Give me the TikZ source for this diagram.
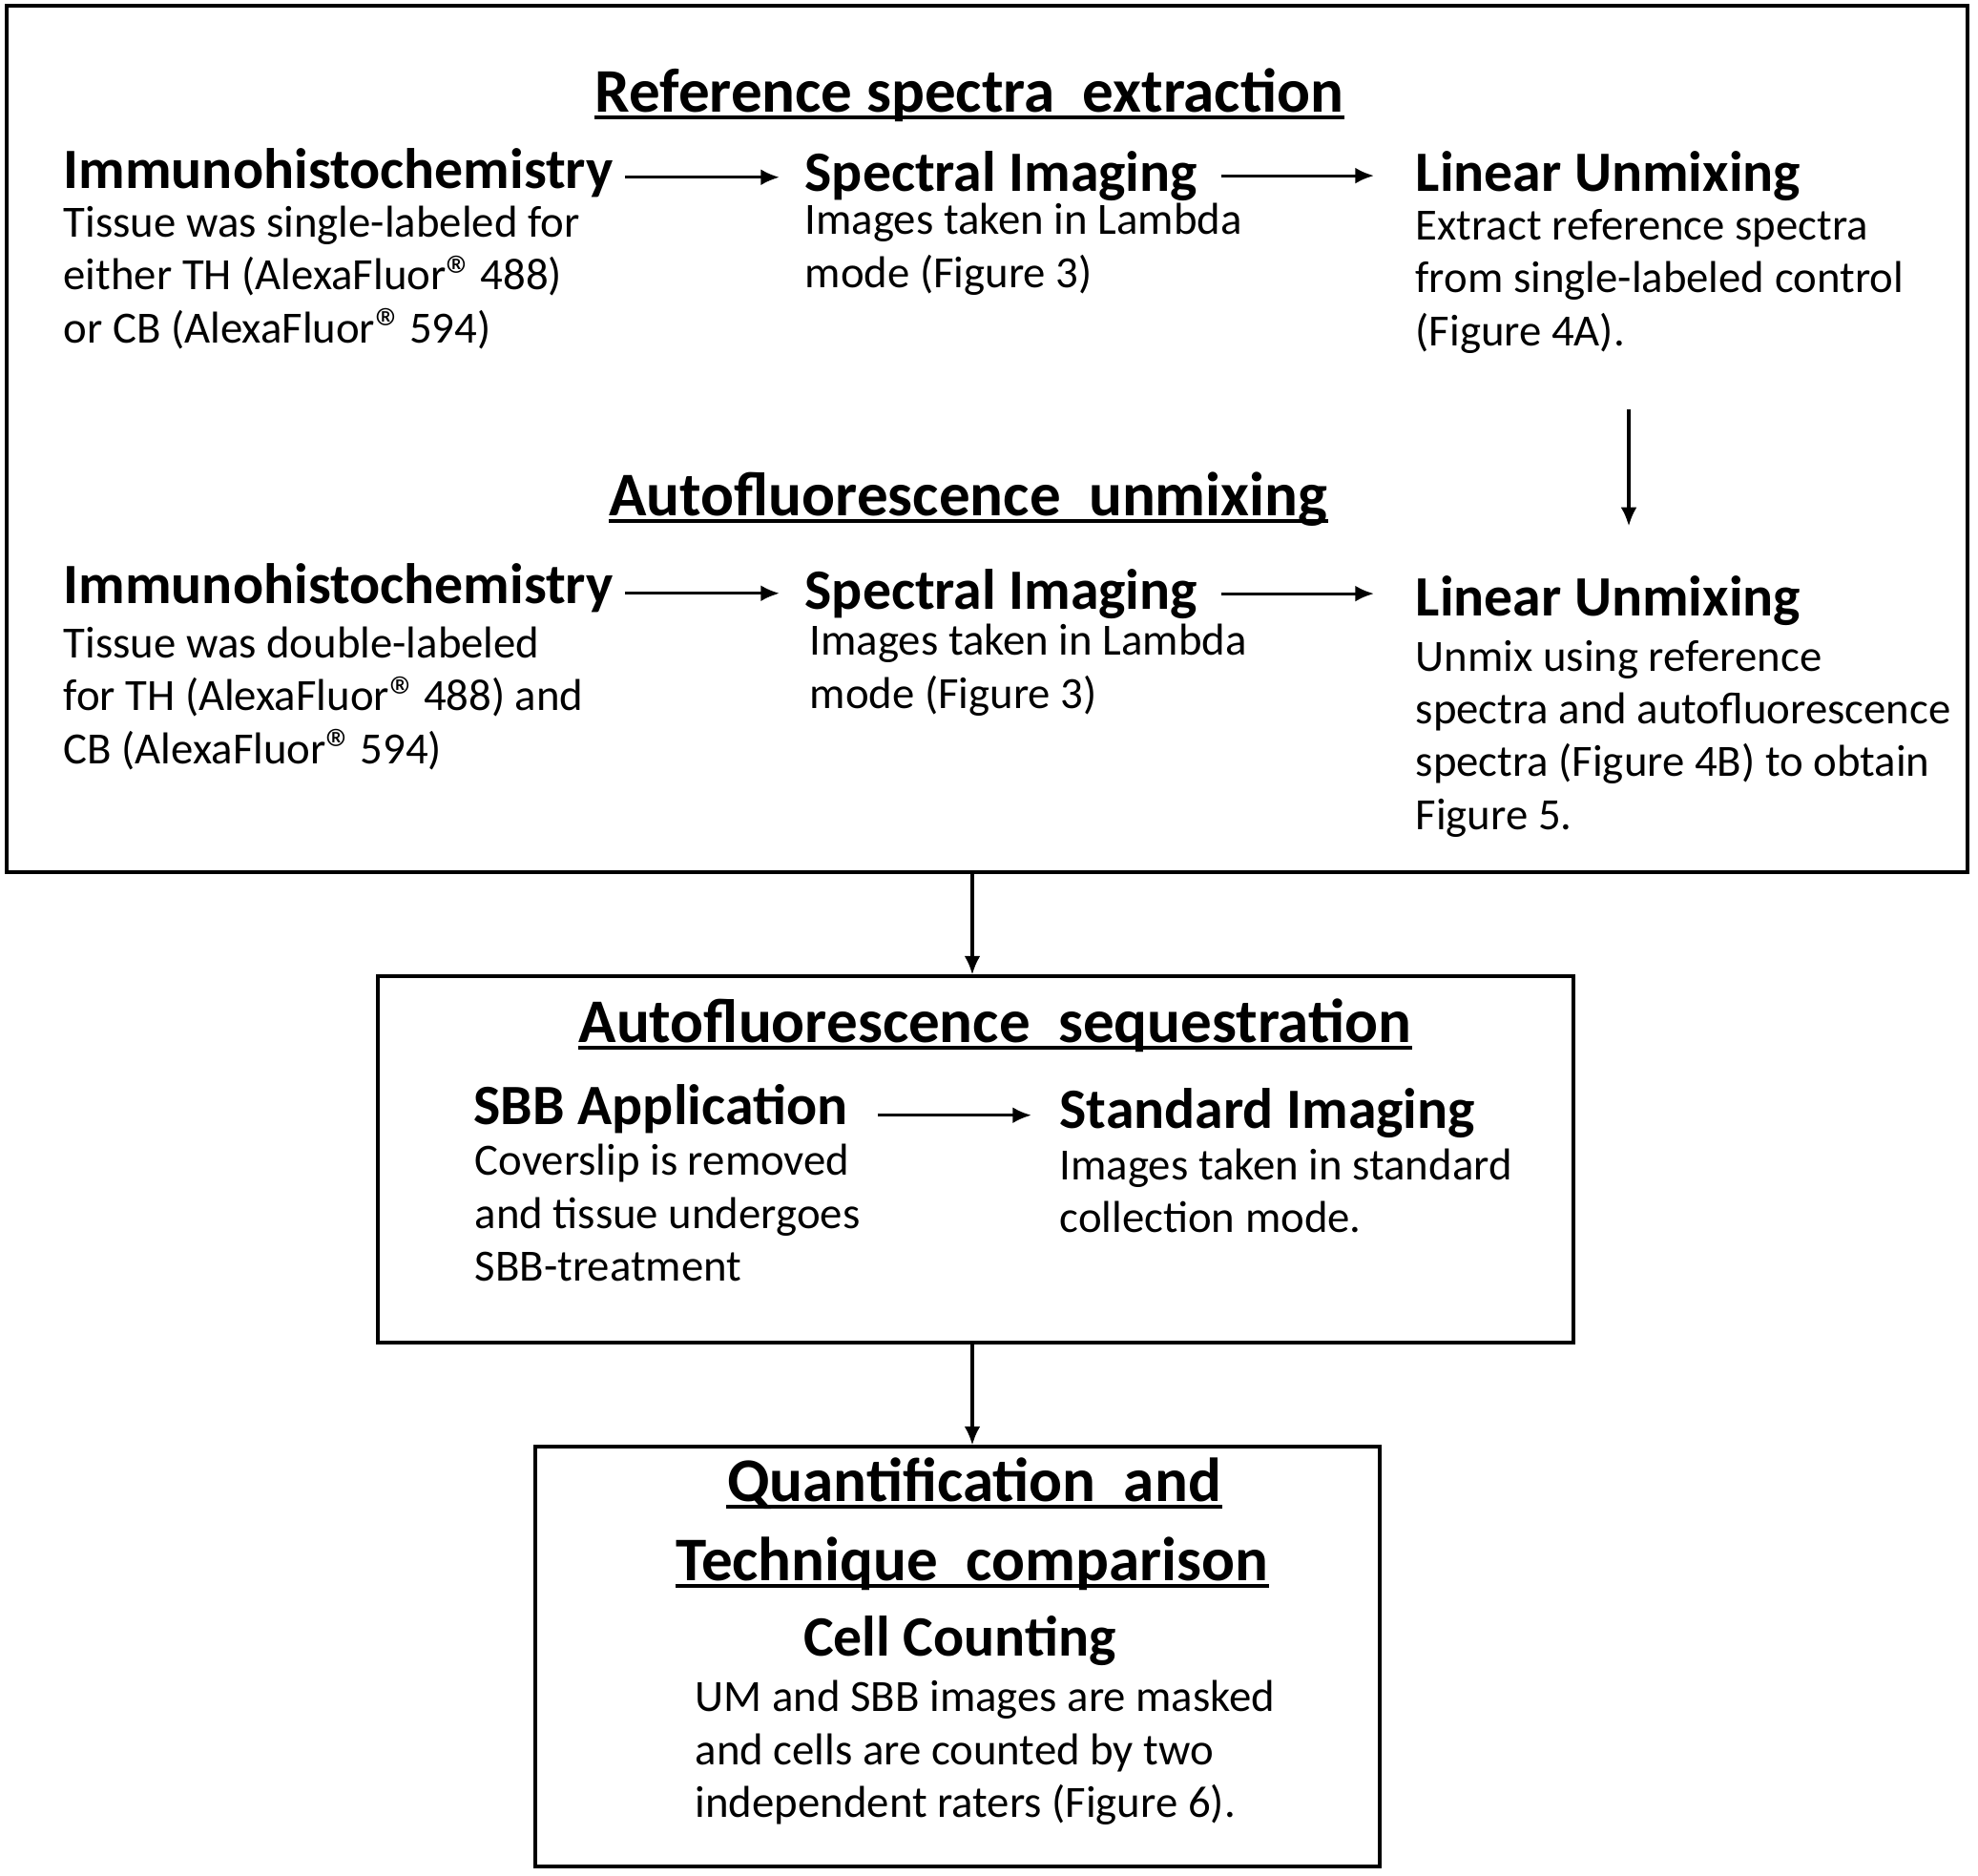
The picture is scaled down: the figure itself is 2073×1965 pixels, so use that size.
\documentclass[tikz,border=0pt]{standalone}
\usepackage{fontspec}
\setmainfont{Carlito}
\usetikzlibrary{positioning}
\usetikzlibrary{arrows.meta}
\usetikzlibrary{calc}

\tikzset{
  frame/.style={draw, line width=0.9pt, inner sep=0pt},
  secttitle/.style={font=\fontsize{18.5}{22}\selectfont\bfseries, inner sep=0pt, anchor=base},
  stephead/.style={font=\fontsize{17}{20}\selectfont\bfseries, inner sep=0pt, anchor=base west},
  stepbody/.style={font=\fontsize{13.3}{15.65}\selectfont, inner sep=0pt, anchor=base west, align=left},
  flow/.style={->, line width=0.9pt},
  >={Latex[length=5.6pt,width=4.8pt]}
}
% registered sign (already raised in this font), a bit enlarged
\newcommand{\regmark}{\smash{\fontsize{17}{17}\selectfont\raisebox{-0.2ex}{\textregistered}}\hspace{0.12em}}

\begin{document}
\begin{tikzpicture}[x=0.01cm, y=-0.01cm]

	\def\dpx{0.01cm}
	\useasboundingbox (0,0) rectangle (2073,1965);

	% frames
	\node[frame, minimum width=2055*\dpx, minimum height=908*\dpx] (box1) at (1034.5,460) {};
	\node[frame, minimum width=1253*\dpx, minimum height=384*\dpx] (box2) at (1022.5,1215) {};
	\node[frame, minimum width=885*\dpx, minimum height=440*\dpx] (box3) at (1003.5,1736) {};

	% section titles
	\node[secttitle] (ref) at (1016,117) {Reference spectra\ \ extraction};
	\node[secttitle] (auto) at (1015,540) {Autofluorescence\ \ unmixing};
	\node[secttitle] (seq) at (1043,1092) {Autofluorescence\ \ sequestration};
	\node[secttitle] (quant) at (1021,1573) {Quantification\ \ and};
	\node[secttitle] (tech) at (1019,1656) {Technique\ \ comparison};

	\foreach \ttl in {ref,auto,seq,quant,tech}
		\draw[line width=1pt] ([yshift=-6*\dpx]\ttl.base west) -- ([yshift=-6*\dpx]\ttl.base east);

	% reference spectra extraction (body nodes sit on their last baseline)
	\node[stephead] (ihc1) at (66,197) {Immunohistochemistry};
	\node[stepbody] (ihc1b) at (66,359) {Tissue was single-labeled for\\either TH (AlexaFluor\regmark 488)\\or CB (AlexaFluor\regmark 594)};
	\node[stephead] (spec1) at (843,200) {Spectral Imaging};
	\node[stepbody] (spec1b) at (843,301) {Images taken in Lambda\\mode (Figure 3)};
	\node[stephead] (lin1) at (1483,200) {Linear Unmixing};
	\node[stepbody] (lin1b) at (1483,362) {Extract reference spectra\\from single-labeled control\\(Figure 4A).};

	% autofluorescence unmixing
	\node[stephead] (ihc2) at (66,632) {Immunohistochemistry};
	\node[stepbody] (ihc2b) at (66,800) {Tissue was double-labeled\\for TH (AlexaFluor\regmark 488) and\\CB (AlexaFluor\regmark 594)};
	\node[stephead] (spec2) at (843,638) {Spectral Imaging};
	\node[stepbody] (spec2b) at (848,742) {Images taken in Lambda\\mode (Figure 3)};
	\node[stephead] (lin2) at (1483,645) {Linear Unmixing};
	\node[stepbody] (lin2b) at (1483,869) {Unmix using reference\\spectra and autofluorescence\\spectra (Figure 4B) to obtain\\Figure 5.};

	% sequestration
	\node[stephead] (sbb) at (496,1178) {SBB Application};
	\node[stepbody] (sbbb) at (497,1342) {Coverslip is removed\\and tissue undergoes\\SBB-treatment};
	\node[stephead] (std) at (1110,1182) {Standard Imaging};
	\node[stepbody] (stdb) at (1110,1291) {Images taken in standard\\collection mode.};

	% quantification
	\node[stephead, anchor=base] (cell) at (1006,1735) {Cell Counting};
	\node[stepbody] (cellb) at (728,1904) {UM and SBB images are masked\\and cells are counted by two\\independent raters (Figure 6).};

	% arrows
	\draw[flow, shorten <=0.12cm, shorten >=0.26cm] ([yshift=-0.05cm]ihc1.east) -- ([yshift=-0.05cm]ihc1.east -| spec1.west);
	\draw[flow, shorten <=0.24cm, shorten >=0.43cm] (spec1.east) -- (spec1.east -| lin1.west);
	\draw[flow, shorten <=0.12cm, shorten >=0.26cm] ([yshift=-0.06cm]ihc2.east) -- ([yshift=-0.06cm]ihc2.east -| spec2.west);
	\draw[flow, shorten <=0.24cm, shorten >=0.43cm] (spec2.east) -- (spec2.east -| lin2.west);
	\draw[flow, shorten <=0.31cm, shorten >=0.29cm] ([yshift=-0.07cm]sbb.east) -- ([yshift=-0.07cm]sbb.east -| std.west);

	\coordinate (drop) at (1707,0);
	\draw[flow, shorten <=0.58cm, shorten >=0.51cm] (lin1b.south -| drop) -- (lin2.north -| drop);

	\coordinate (stem) at (1019,0);
	\draw[flow] (box1.south -| stem) -- (box2.north -| stem);
	\draw[flow] (box2.south -| stem) -- (box3.north -| stem);

\end{tikzpicture}
\end{document}
